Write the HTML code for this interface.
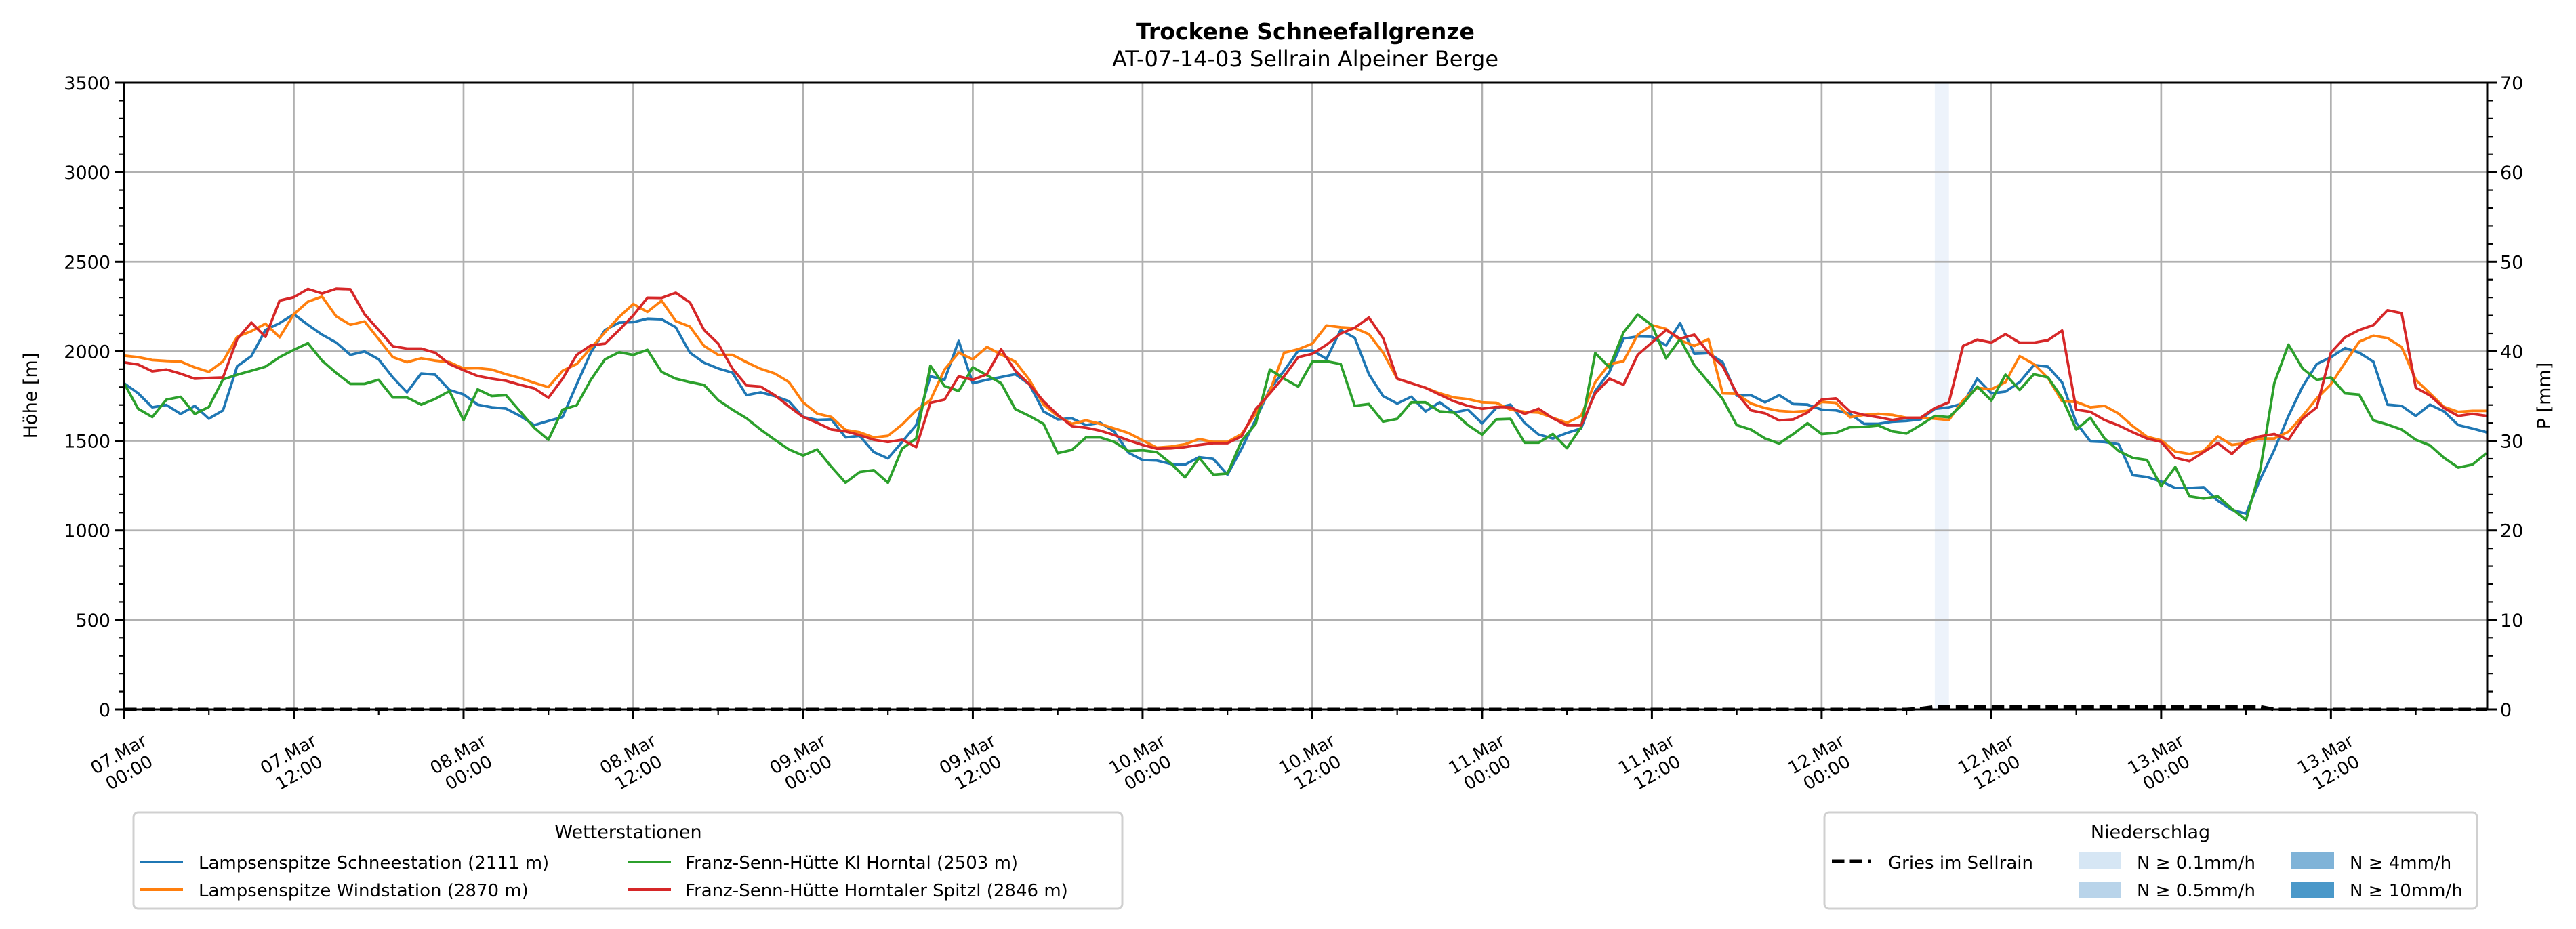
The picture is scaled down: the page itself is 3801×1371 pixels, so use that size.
<!DOCTYPE html>
<html><head><meta charset="utf-8"><title>Trockene Schneefallgrenze</title>
<style>
html,body{margin:0;padding:0;background:#fff;}
svg{display:block;font-family:"DejaVu Sans","Liberation Sans",sans-serif;}
</style></head>
<body>
<svg id="chart" xmlns="http://www.w3.org/2000/svg" width="3801" height="1371" viewBox="0 0 3801 1371">
<rect x="0" y="0" width="3801" height="1371" fill="#fff"/>
<text x="1926" y="58" font-size="33" font-weight="bold" text-anchor="middle">Trockene Schneefallgrenze</text>
<text x="1926" y="98" font-size="32" text-anchor="middle">AT-07-14-03 Sellrain Alpeiner Berge</text>
<g id="bands"></g>
<g id="grid"></g>
<g id="series"></g>
<g id="axes"></g>
<text transform="translate(54,584) rotate(-90)" font-size="27" text-anchor="middle">Höhe [m]</text>
<text transform="translate(3763,584) rotate(-90)" font-size="27" text-anchor="middle">P [mm]</text>

<g>
<rect x="197" y="1199" width="1459" height="142" rx="7" fill="#fff" stroke="#d0d0d0" stroke-width="3"/>
<text x="927" y="1237" font-size="27" text-anchor="middle">Wetterstationen</text>
<line x1="207" y1="1272" x2="270" y2="1272" stroke="#1f77b4" stroke-width="4"/>
<text x="293" y="1282" font-size="26">Lampsenspitze Schneestation (2111 m)</text>
<line x1="207" y1="1313" x2="270" y2="1313" stroke="#ff7f0e" stroke-width="4"/>
<text x="293" y="1323" font-size="26">Lampsenspitze Windstation (2870 m)</text>
<line x1="927" y1="1272" x2="990" y2="1272" stroke="#2ca02c" stroke-width="4"/>
<text x="1011" y="1282" font-size="26">Franz-Senn-Hütte Kl Horntal (2503 m)</text>
<line x1="927" y1="1313" x2="990" y2="1313" stroke="#d62728" stroke-width="4"/>
<text x="1011" y="1323" font-size="26">Franz-Senn-Hütte Horntaler Spitzl (2846 m)</text>
</g>

<g>
<rect x="2692" y="1199" width="963" height="142" rx="7" fill="#fff" stroke="#d0d0d0" stroke-width="3"/>
<text x="3173" y="1237" font-size="27" text-anchor="middle">Niederschlag</text>
<line x1="2703" y1="1271" x2="2761" y2="1271" stroke="#000" stroke-width="5" stroke-dasharray="18.5 8"/>
<text x="2786" y="1282" font-size="26">Gries im Sellrain</text>
<rect x="3067" y="1258" width="63" height="25" fill="#d6e6f4"/>
<text x="3153" y="1282" font-size="26">N ≥ 0.1mm/h</text>
<rect x="3067" y="1301" width="63" height="24" fill="#b9d4ea"/>
<text x="3153" y="1323" font-size="26">N ≥ 0.5mm/h</text>
<rect x="3381" y="1258" width="63" height="25" fill="#7fb3d8"/>
<text x="3467" y="1282" font-size="26">N ≥ 4mm/h</text>
<rect x="3381" y="1301" width="63" height="24" fill="#4a98c9"/>
<text x="3467" y="1323" font-size="26">N ≥ 10mm/h</text>
</g>
</svg>
<script>
// ---- data (hourly from 07.Mar 00:00) ----
const lampSchnee = [1822,1765,1687,1700,1650,1695,1624,1670,1917,1973,2119,2157,2207,2148,2093,2049,1980,1999,1955,1854,1771,1876,1869,1784,1759,1702,1687,1680,1639,1588,1611,1633,1816,1992,2119,2160,2163,2182,2179,2134,1992,1936,1904,
1881,1755,1771,1750,1721,1633,1617,1620,1519,1528,1437,1402,1494,1588,1860,1841,2058,1822,1841,1856,1872,1816,1664,1620,1626,1588,1601,1551,1434,1393,1390,1371,1367,1409,1399,1311,1456,1620,1790,1891,2003,
2005,1957,2119,2075,1872,1750,1708,1746,1664,1715,1658,1674,1598,1683,1702,1601,1535,1513,1544,1569,1778,1885,2071,2083,2081,2033,2157,1986,1990,1939,1752,1755,1715,1755,1705,1702,1674,1670,1651,1595,1595,
1607,1611,1620,1679,1687,1708,1847,1765,1775,1828,1923,1914,1826,1601,1497,1494,1481,1308,1298,1273,1237,1237,1241,1165,1115,1093,1285,1449,1639,1803,1929,1967,2018,1992,1942,1702,1695,1639,1702,1664,1588,1569,1548];
const lampWind = [1976,1967,1951,1946,1943,1910,1885,1944,2081,2112,2154,2078,2207,2277,2306,2195,2148,2167,2068,1967,1939,1961,1948,1939,1904,1906,1898,1872,1851,1824,1800,1891,1929,2018,2106,2192,2264,2220,2283,2169,2138,2030,1980,
1980,1939,1902,1876,1828,1715,1652,1633,1561,1548,1519,1528,1591,1670,1727,1898,1992,1955,2024,1982,1942,1841,1702,1639,1595,1614,1595,1569,1544,1503,1462,1468,1481,1510,1494,1494,1538,1652,1778,1992,2011,
2043,2144,2134,2129,2096,1992,1847,1822,1796,1765,1742,1733,1715,1712,1674,1662,1658,1629,1601,1639,1828,1929,1944,2093,2146,2125,2062,2030,2068,1765,1763,1708,1683,1667,1662,1667,1717,1712,1632,1645,1651,
1645,1629,1629,1624,1616,1727,1796,1788,1828,1973,1929,1851,1721,1717,1687,1695,1652,1582,1523,1503,1440,1427,1443,1525,1477,1487,1513,1513,1551,1639,1737,1816,1936,2053,2087,2074,2024,1841,1765,1689,1662,1667,1667];
const fsKlHorntal = [1822,1679,1633,1730,1746,1650,1689,1843,1869,1891,1914,1967,2008,2045,1948,1879,1818,1818,1841,1742,1742,1702,1734,1778,1616,1787,1750,1755,1664,1573,1506,1674,1699,1841,1955,1995,1980,2008,1885,1847,1828,1812,1727,
1674,1626,1563,1506,1452,1418,1452,1355,1266,1326,1336,1266,1456,1513,1919,1806,1778,1910,1866,1822,1677,1639,1595,1431,1449,1519,1519,1494,1443,1447,1437,1374,1296,1405,1311,1317,1500,1595,1898,1847,1803,
1942,1944,1929,1695,1705,1607,1623,1715,1715,1664,1658,1588,1535,1620,1623,1490,1490,1538,1459,1576,1990,1910,2106,2205,2146,1961,2068,1923,1828,1734,1588,1563,1513,1485,1538,1598,1538,1544,1576,1578,1586,
1553,1541,1588,1639,1632,1708,1803,1725,1869,1784,1872,1854,1740,1563,1629,1513,1443,1405,1393,1247,1354,1190,1178,1190,1121,1058,1336,1822,2037,1904,1841,1854,1765,1758,1614,1591,1563,1506,1475,1405,1351,1367,1431];
const fsSpitzl = [1938,1926,1888,1898,1875,1847,1851,1854,2068,2160,2081,2283,2302,2348,2323,2349,2346,2207,2119,2028,2015,2015,1992,1929,1894,1862,1847,1835,1813,1793,1740,1847,1980,2033,2043,2119,2201,2299,2298,2327,2273,2119,2043,
1904,1809,1803,1755,1692,1633,1601,1563,1553,1532,1506,1494,1506,1465,1712,1730,1860,1841,1872,2011,1891,1816,1721,1645,1582,1573,1557,1532,1503,1477,1456,1458,1465,1477,1487,1487,1525,1677,1765,1860,1967,
1986,2036,2099,2131,2188,2074,1847,1822,1796,1758,1721,1695,1679,1689,1687,1651,1679,1626,1586,1586,1765,1847,1813,1980,2049,2119,2071,2093,1992,1917,1765,1670,1654,1614,1620,1658,1730,1737,1664,1645,1632,
1616,1629,1629,1683,1715,2030,2065,2049,2096,2048,2048,2062,2116,1674,1662,1616,1586,1548,1513,1494,1405,1386,1437,1487,1427,1503,1525,1538,1506,1624,1687,1992,2078,2119,2146,2229,2213,1797,1753,1683,1639,1651,1639];
const griesPrecip = [
0,0,0,0,0,0,0,0,0,0,0,0,0,0,0,0,0,0,0,0,0,0,0,0,
0,0,0,0,0,0,0,0,0,0,0,0,0,0,0,0,0,0,0,0,0,0,0,0,
0,0,0,0,0,0,0,0,0,0,0,0,0,0,0,0,0,0,0,0,0,0,0,0,
0,0,0,0,0,0,0,0,0,0,0,0,0,0,0,0,0,0,0,0,0,0,0,0,
0,0,0,0,0,0,0,0,0,0,0,0,0,0,0,0,0,0,0,0,0,0,0,0,
0,0,0,0,0,0,0,0.1,0.3,0.3,0.3,0.3,0.3,0.3,0.3,0.3,0.3,0.3,0.3,0.3,0.3,0.3,0.3,0.3,
0.3,0.3,0.3,0.3,0.3,0.3,0.3,0.3,0,0,0,0,0,0,0,0,0,0,0,0,0,0,0,0];
const bandHours = [128];
const bandClass = [0];
const bandColors = ["#edf3fb","#b9d4ea","#7fb3d8","#4a98c9"];
const yTicks = [0,500,1000,1500,2000,2500,3000,3500];
const y2Ticks = [0,10,20,30,40,50,60,70];
const xTickHours = [0,12,24,36,48,60,72,84,96,108,120,132,144,156];
const xTickDay = ["07.Mar","07.Mar","08.Mar","08.Mar","09.Mar","09.Mar","10.Mar","10.Mar","11.Mar","11.Mar","12.Mar","12.Mar","13.Mar","13.Mar"];
const xTickTime = ["00:00","12:00","00:00","12:00","00:00","12:00","00:00","12:00","00:00","12:00","00:00","12:00","00:00","12:00"];

// ---- layout ----
const L=183, R=3670, T=122, B=1047;
const hMax=167.05, yMax=3500, y2Max=70;
const xS = h => L + (R-L)*h/hMax;
const yS = v => B - (B-T)*v/yMax;
const y2S = v => B - (B-T)*v/y2Max;
const NS="http://www.w3.org/2000/svg";
function mk(tag, attrs, parent){const e=document.createElementNS(NS,tag);for(const k in attrs)e.setAttribute(k,attrs[k]);parent.appendChild(e);return e;}
const gBands=document.getElementById('bands'), gGrid=document.getElementById('grid'), gSer=document.getElementById('series'), gAx=document.getElementById('axes');

bandHours.forEach((h,i)=>{
  const r=mk('rect',{x:xS(h),y:T,width:xS(h+1)-xS(h),height:B-T,fill:bandColors[bandClass[i]]},gBands);
  
  
});
xTickHours.forEach(h=>{
  const l=mk('line',{x1:xS(h),x2:xS(h),y1:T,y2:B,stroke:'#b0b0b0','stroke-width':2.7},gGrid);
  
  
});
yTicks.forEach(v=>{
  const l=mk('line',{x1:L,x2:R,y1:yS(v),y2:yS(v),stroke:'#b0b0b0','stroke-width':2.7},gGrid);
  
  
});

const series=[[lampSchnee,'#1f77b4','line-lampsenspitze-schnee'],[lampWind,'#ff7f0e','line-lampsenspitze-wind'],[fsKlHorntal,'#2ca02c','line-franz-senn-kl-horntal'],[fsSpitzl,'#d62728','line-franz-senn-spitzl']];
series.forEach(s=>{
  const pts=s[0].map((v,i)=>xS(i).toFixed(1)+','+yS(v).toFixed(1)).join(' ');
  const p=mk('polyline',{points:pts,fill:'none',stroke:s[1],'stroke-width':3.8,'stroke-linejoin':'round'},gSer);
  
  
});
{
  const pts=griesPrecip.map((v,i)=>xS(i).toFixed(1)+','+y2S(v).toFixed(1)).join(' ');
  const p=mk('polyline',{points:pts,fill:'none',stroke:'#000','stroke-width':5,'stroke-dasharray':'18.5 8'},gSer);
  
  
}

// frame
const fr=mk('rect',{x:L,y:T,width:R-L,height:B-T,fill:'none',stroke:'#000','stroke-width':3},gAx);


// y ticks
for(let v=0; v<=yMax; v+=100){
  const major = v%500===0;
  const len = major?14:8;
  const t1=mk('line',{x1:L-len,x2:L,y1:yS(v),y2:yS(v),stroke:'#000','stroke-width':major?3:2.2},gAx);
  
  
  const t2=mk('line',{x1:R,x2:R+len,y1:yS(v),y2:yS(v),stroke:'#000','stroke-width':major?3:2.2},gAx);
  
  
}
yTicks.forEach(v=>{
  const t=mk('text',{x:L-20,y:yS(v)+10,'font-size':27,'text-anchor':'end'},gAx);
  t.textContent=v;
  
  
});
y2Ticks.forEach(v=>{
  const t=mk('text',{x:R+19,y:y2S(v)+10,'font-size':27,'text-anchor':'start'},gAx);
  t.textContent=v;
  
  
});
// x ticks
for(let h=0; h<=hMax; h+=6){
  const major=h%12===0;
  const t=mk('line',{x1:xS(h),x2:xS(h),y1:B,y2:B+(major?14:8),stroke:'#000','stroke-width':major?3:2.2},gAx);
  
  
}
xTickHours.forEach((h,i)=>{
  const g=mk('g',{transform:'translate('+xS(h).toFixed(1)+',1127) rotate(-30)'},gAx);
  
  
  const a=mk('text',{x:0,y:-7,'font-size':26,'text-anchor':'middle'},g);
  a.textContent=xTickDay[i];
  const b=mk('text',{x:0,y:24,'font-size':26,'text-anchor':'middle'},g);
  b.textContent=xTickTime[i];
});
</script>
</body></html>
